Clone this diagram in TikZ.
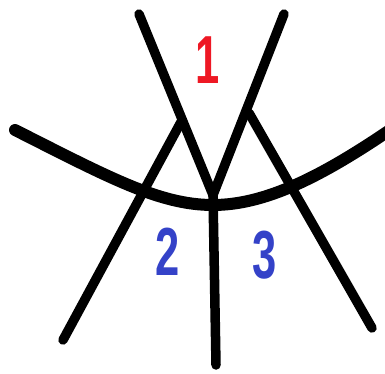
\documentclass[tikz,border=0pt]{standalone}
\usepackage{fontspec}
\setmainfont{Liberation Sans}
\definecolor{numred}{RGB}{238,24,36}
\definecolor{numblue}{RGB}{52,66,200}
\begin{document}
\begin{tikzpicture}[x=1pt,y=-1pt,
  stroke/.style={line width=9.5pt,line cap=round,line join=round,black},
  thick stroke/.style={line width=12pt,line cap=round,line join=round,black},
  numlabel/.style={font=\bfseries\fontsize{68}{68}\selectfont,inner sep=0pt,xscale=0.64}]
\useasboundingbox (0,0) rectangle (385,374);
\coordinate (atop) at (139,14);
\coordinate (btop) at (284,14);
\coordinate (v) at (213,195);
\coordinate (lpeak) at (181,122);
\coordinate (lfoot) at (63,340);
\coordinate (rpeak) at (249,113);
\coordinate (rfoot) at (372,328);
\coordinate (vfoot) at (216,365);
\coordinate (cl) at (15,130);
\coordinate (cm) at (213,205);
\coordinate (cr) at (390,130);
% curve
\draw[thick stroke] (cl) .. controls (110,178) and (160,205) .. (cm)
  .. controls (266,205) and (322,176) .. (cr);
% lines
\draw[stroke] (atop) -- (v);
\draw[stroke] (btop) -- (v);
\draw[stroke] (lfoot) -- (lpeak);
\draw[stroke] (rfoot) -- (rpeak);
\draw[stroke] (v) -- (vfoot);
\node[numlabel,text=numred] (n1) at (208,60) {1};
\node[numlabel,text=numblue] (n2) at (168,252) {2};
\node[numlabel,text=numblue] (n3) at (265,255) {3};
\end{tikzpicture}
\end{document}
